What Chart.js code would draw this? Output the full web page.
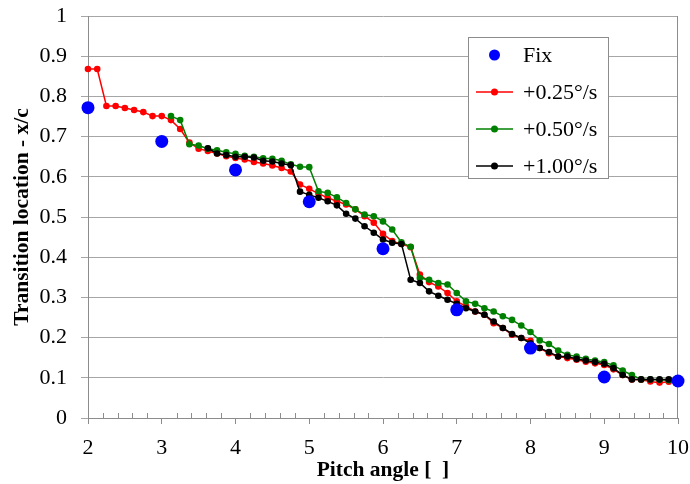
<!DOCTYPE html>
<html>
<head>
<meta charset="utf-8">
<script src="https://cdn.jsdelivr.net/npm/chart.js@4/dist/chart.umd.min.js"></script>
<style>
  html, body { margin: 0; padding: 0; background: #fff; }
  #wrap { width: 690px; height: 484px; }
</style>
</head>
<body>
<div id="wrap"><canvas id="chart"></canvas></div>
<script>
// steady (fixed angle) measurements
let fixAngle = [2, 3, 4, 5, 6, 7, 8, 9, 10];
let fixLoc = [0.772, 0.688, 0.617, 0.538, 0.421, 0.269, 0.174, 0.102, 0.092];

// +0.25 deg/s
let angle025 = [
  2.0, 2.125, 2.25, 2.375, 2.5, 2.625, 2.75, 2.875,
  3.0, 3.125, 3.25, 3.375, 3.5, 3.625, 3.75, 3.875,
  4.0, 4.125, 4.25, 4.375, 4.5, 4.625, 4.75, 4.875,
  5.0, 5.125, 5.25, 5.375, 5.5, 5.625, 5.75, 5.875,
  6.0, 6.125, 6.25, 6.375, 6.5, 6.625, 6.75, 6.875,
  7.0, 7.125, 7.25, 7.375, 7.5, 7.625, 7.75, 7.875,
  8.0, 8.125, 8.25, 8.375, 8.5, 8.625, 8.75, 8.875,
  9.0, 9.125, 9.25, 9.375, 9.5, 9.625, 9.75, 9.875,
  10.0
];
let loc025 = [
  0.868, 0.868, 0.776, 0.776, 0.771, 0.766, 0.761, 0.751,
  0.751, 0.741, 0.719, 0.685, 0.670, 0.664, 0.658, 0.651,
  0.647, 0.643, 0.637, 0.633, 0.628, 0.622, 0.613, 0.581,
  0.570, 0.558, 0.548, 0.539, 0.531, 0.519, 0.502, 0.486,
  0.458, 0.440, 0.433, 0.425, 0.357, 0.338, 0.327, 0.311,
  0.290, 0.278, 0.265, 0.257, 0.236, 0.224, 0.207, 0.199,
  0.192, 0.174, 0.161, 0.153, 0.149, 0.145, 0.140, 0.136,
  0.132, 0.121, 0.107, 0.096, 0.095, 0.091, 0.088, 0.090,
  0.091
];

// +0.50 deg/s
let angle050 = [
  3.125, 3.25, 3.375, 3.5, 3.625, 3.75, 3.875,
  4.0, 4.125, 4.25, 4.375, 4.5, 4.625, 4.75, 4.875,
  5.0, 5.125, 5.25, 5.375, 5.5, 5.625, 5.75, 5.875,
  6.0, 6.125, 6.25, 6.375, 6.5, 6.625, 6.75, 6.875,
  7.0, 7.125, 7.25, 7.375, 7.5, 7.625, 7.75, 7.875,
  8.0, 8.125, 8.25, 8.375, 8.5, 8.625, 8.75, 8.875,
  9.0, 9.125, 9.25, 9.375, 9.5, 9.625, 9.75, 9.875
];
let loc050 = [
  0.751, 0.741, 0.681, 0.678, 0.670, 0.666, 0.661,
  0.657, 0.652, 0.650, 0.646, 0.645, 0.640, 0.631, 0.625,
  0.624, 0.564, 0.560, 0.549, 0.535, 0.519, 0.506, 0.502,
  0.489, 0.469, 0.437, 0.426, 0.348, 0.344, 0.336, 0.332,
  0.311, 0.290, 0.284, 0.273, 0.265, 0.253, 0.244, 0.230,
  0.214, 0.193, 0.184, 0.168, 0.157, 0.153, 0.147, 0.143,
  0.139, 0.131, 0.118, 0.107, 0.096, 0.096, 0.095, 0.094
];

// +1.00 deg/s
let angle100 = [
  3.625, 3.75, 3.875,
  4.0, 4.125, 4.25, 4.375, 4.5, 4.625, 4.75, 4.875,
  5.0, 5.125, 5.25, 5.375, 5.5, 5.625, 5.75, 5.875,
  6.0, 6.125, 6.25, 6.375, 6.5, 6.625, 6.75, 6.875,
  7.0, 7.125, 7.25, 7.375, 7.5, 7.625, 7.75, 7.875,
  8.0, 8.125, 8.25, 8.375, 8.5, 8.625, 8.75, 8.875,
  9.0, 9.125, 9.25, 9.375, 9.5, 9.625, 9.75, 9.875
];
let loc100 = [
  0.671, 0.658, 0.654,
  0.650, 0.650, 0.648, 0.640, 0.638, 0.633, 0.629, 0.563,
  0.555, 0.548, 0.539, 0.529, 0.508, 0.496, 0.477, 0.461,
  0.444, 0.436, 0.433, 0.344, 0.336, 0.315, 0.304, 0.294,
  0.284, 0.273, 0.265, 0.257, 0.240, 0.224, 0.209, 0.199,
  0.186, 0.174, 0.164, 0.153, 0.153, 0.147, 0.143, 0.139,
  0.135, 0.124, 0.107, 0.096, 0.096, 0.096, 0.096, 0.096
];

let xTicks = [2, 3, 4, 5, 6, 7, 8, 9, 10];

const FONT = "'Liberation Serif', 'Times New Roman', serif";
const AXIS_GRAY = '#8c8c8c';

function toPoints(xs, ys) {
  return xs.map((x, i) => ({ x: x, y: ys[i] }));
}

// minor ticks on x axis, right frame line
const framePlugin = {
  id: 'frame',
  beforeDatasetsDraw(chart) {
    let ctx = chart.ctx;
    let area = chart.chartArea;
    let xs = chart.scales.x;
    ctx.save();
    ctx.strokeStyle = AXIS_GRAY;
    ctx.lineWidth = 1;
    ctx.beginPath();
    for (let v = 2; v < 10; v++) {
      for (let k = 1; k < 5; k++) {
        let px = Math.round(xs.getPixelForValue(v + k * 0.2)) + 0.5;
        ctx.moveTo(px, area.bottom);
        ctx.lineTo(px, area.bottom - 5);
      }
    }
    let rx = Math.round(area.right) - 0.5;
    ctx.moveTo(rx, area.top);
    ctx.lineTo(rx, area.bottom);
    ctx.stroke();
    ctx.restore();
  }
};

// legend box inside the plot
const legendBoxPlugin = {
  id: 'legendBox',
  afterDraw(chart) {
    let ctx = chart.ctx;
    let sets = chart.data.datasets;
    let box = { x: 468, y: 37, w: 140, h: 141 };
    ctx.save();
    ctx.fillStyle = '#fff';
    ctx.fillRect(box.x, box.y, box.w, box.h);
    ctx.strokeStyle = AXIS_GRAY;
    ctx.lineWidth = 1;
    ctx.strokeRect(box.x + 0.5, box.y + 0.5, box.w, box.h);
    let rows = [55, 92, 129, 166];
    sets.forEach((ds, i) => {
      let y = rows[i];
      if (ds.showLine !== false) {
        ctx.strokeStyle = ds.borderColor;
        ctx.lineWidth = 1.5;
        ctx.beginPath();
        ctx.moveTo(476, y);
        ctx.lineTo(513, y);
        ctx.stroke();
      }
      ctx.fillStyle = ds.pointBackgroundColor;
      ctx.beginPath();
      ctx.arc(494.5, y, ds.showLine === false ? 5.5 : 3.5, 0, Math.PI * 2);
      ctx.fill();
      ctx.fillStyle = '#000';
      ctx.font = '22px ' + FONT;
      ctx.textBaseline = 'middle';
      ctx.textAlign = 'left';
      ctx.fillText(ds.label, 523, y + 1);
    });
    ctx.restore();
  }
};

function lineSet(label, color, xs, ys, order) {
  return {
    label: label,
    data: toPoints(xs, ys),
    borderColor: color,
    backgroundColor: color,
    pointBackgroundColor: color,
    pointBorderWidth: 0,
    pointRadius: 3.3,
    borderWidth: 1.5,
    showLine: true,
    tension: 0,
    clip: false,
    order: order,
  };
}

new Chart(document.getElementById('chart').getContext('2d'), {
  type: 'scatter',
  data: {
    datasets: [
      {
        label: 'Fix',
        data: toPoints(fixAngle, fixLoc),
        backgroundColor: '#0000ff',
        pointBackgroundColor: '#0000ff',
        borderColor: '#0000ff',
        pointBorderWidth: 0,
        pointRadius: 6.5,
        showLine: false,
        clip: false,
        order: 0,
      },
      lineSet('+0.25°/s', '#ff0000', angle025, loc025, 3),
      lineSet('+0.50°/s', '#008000', angle050, loc050, 2),
      lineSet('+1.00°/s', '#000000', angle100, loc100, 1),
    ],
  },
  options: {
    responsive: true,
    maintainAspectRatio: false,
    animation: false,
    layout: { padding: { top: 0, right: 0, bottom: 0, left: 0 } },
    plugins: {
      legend: { display: false },
      tooltip: { enabled: false },
    },
    scales: {
      x: {
        type: 'linear',
        min: 2,
        max: 10,
        afterBuildTicks(scale) {
          scale.ticks = xTicks.map((v) => ({ value: v }));
        },
        afterFit(scale) {
          scale.height = 66;
          scale.paddingRight = 12;
        },
        ticks: {
          color: '#000',
          font: { family: FONT, size: 22 },
          padding: 11,
          maxRotation: 0,
        },
        grid: {
          drawOnChartArea: false,
          color: AXIS_GRAY,
          tickLength: 6,
        },
        border: { color: AXIS_GRAY, width: 1 },
        title: {
          display: true,
          text: 'Pitch angle [  ]',
          color: '#000',
          font: { family: FONT, size: 21.5, weight: 'bold' },
          padding: { top: 0, bottom: 1 },
        },
      },
      y: {
        min: 0,
        max: 1,
        afterFit(scale) {
          scale.width = 88;
          scale.paddingTop = 16;
        },
        ticks: {
          stepSize: 0.1,
          color: '#000',
          font: { family: FONT, size: 22 },
          padding: 14,
          callback: (v) => String(Math.round(v * 10) / 10),
        },
        grid: {
          color: '#a6a6a6',
          tickLength: 7,
        },
        border: { color: AXIS_GRAY, width: 1 },
        title: {
          display: true,
          text: 'Transition location - x/c',
          color: '#000',
          font: { family: FONT, size: 21.5, weight: 'bold' },
          padding: { top: 10, bottom: 0 },
        },
      },
    },
  },
  plugins: [framePlugin, legendBoxPlugin],
});
</script>
</body>
</html>
